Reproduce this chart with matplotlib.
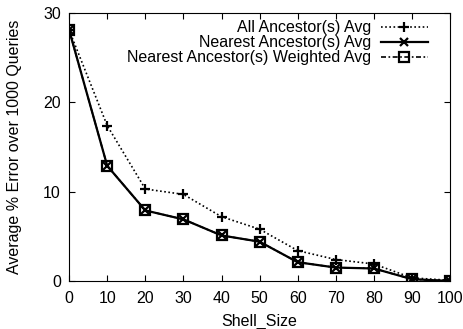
import numpy as np
import matplotlib.pyplot as plt

plt.rcParams['font.family'] = ['Liberation Sans', 'DejaVu Sans']

shell_size = [0, 10, 20, 30, 40, 50, 60, 70, 80, 90, 100]
all_avg = [28.1, 17.4, 10.3, 9.7, 7.2, 5.8, 3.4, 2.4, 1.9, 0.35, 0.07]
nearest_avg = [28.1, 12.9, 7.9, 6.9, 5.1, 4.4, 2.1, 1.5, 1.4, 0.2, 0.0]
weighted_avg = [28.1, 12.9, 7.9, 6.9, 5.1, 4.4, 2.1, 1.5, 1.4, 0.2, 0.0]

fig = plt.figure(figsize=(4.64, 3.29), dpi=100)
ax = fig.add_axes([0.149, 0.146, 0.821, 0.814])

ax.plot(shell_size, all_avg, color='black', linestyle=(0, (1, 1.5)), linewidth=1.2,
        marker='+', markersize=7, markeredgewidth=1.6, label='All Ancestor(s) Avg')
ax.plot(shell_size, nearest_avg, color='black', linestyle='-', linewidth=1.6,
        marker='x', markersize=6, markeredgewidth=1.6, label='Nearest Ancestor(s) Avg')
ax.plot(shell_size, weighted_avg, color='black', linestyle=(0, (3, 1.5, 1, 1.5)), linewidth=1.2,
        marker='s', markersize=7, markerfacecolor='none', markeredgewidth=1.6,
        label='Nearest Ancestor(s) Weighted Avg')

ax.set_xlim(0, 100)
ax.set_ylim(0, 30)
ax.set_xticks(shell_size)
ax.set_yticks([0, 10, 20, 30])
ax.tick_params(direction='in', top=True, right=True, labelsize=11.5, length=4)
ax.tick_params(axis='x', pad=7)
ax.tick_params(axis='y', pad=6)
ax.set_xlabel('Shell_Size', fontsize=11.5, labelpad=6)
ax.set_ylabel('Average % Error over 1000 Queries', fontsize=11.5, labelpad=15)

ax.legend(loc='upper right', bbox_to_anchor=(0.95, 0.985), frameon=False,
          markerfirst=False, fontsize=11.5, handlelength=2.95, labelspacing=0.0,
          borderaxespad=0.0, handletextpad=0.6, borderpad=0.2)

fig.savefig('out.png', dpi=100)
